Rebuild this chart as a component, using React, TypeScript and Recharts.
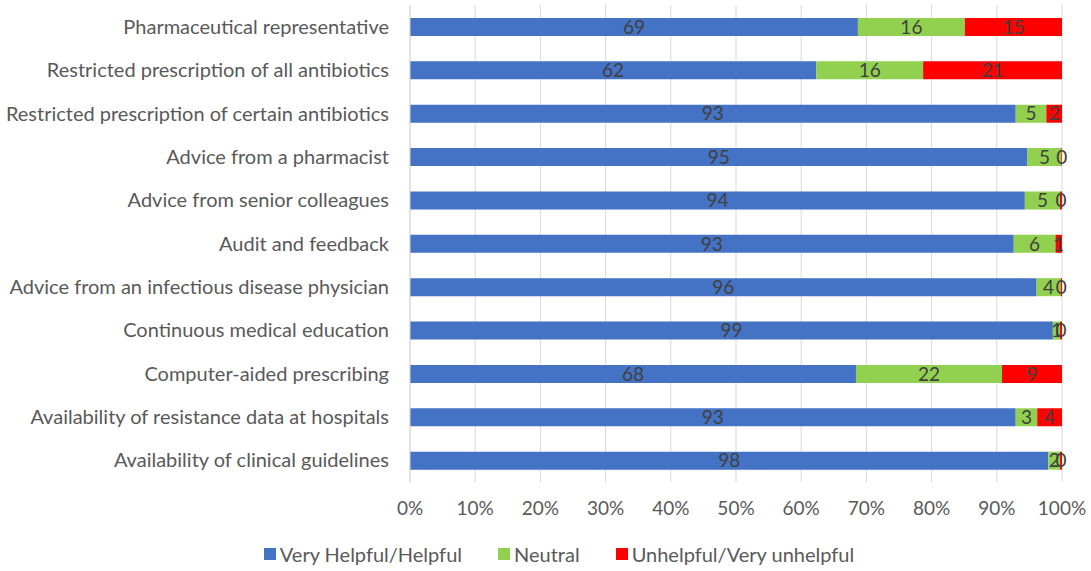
import React from "react"
import {
    Bar,
    BarChart,
    CartesianGrid,
    LabelList,
    Legend,
    XAxis,
    YAxis,
} from "recharts"

const categories = [
    "Pharmaceutical representative",
    "Restricted prescription of all antibiotics",
    "Restricted prescription of certain antibiotics",
    "Advice from a pharmacist",
    "Advice from senior colleagues",
    "Audit and feedback",
    "Advice from an infectious disease physician",
    "Continuous medical education",
    "Computer-aided prescribing",
    "Availability of resistance data at hospitals",
    "Availability of clinical guidelines",
]

// percentages
const helpful = [68.7, 62.3, 92.9, 94.7, 94.3, 92.6, 96.1, 98.6, 68.4, 92.9, 97.9]
const neutral = [16.4, 16.4, 4.7, 5.2, 5.4, 6.4, 3.7, 1.1, 22.4, 3.3, 1.8]
const unhelpful = [14.9, 21.3, 2.4, 0.1, 0.3, 1.0, 0.2, 0.3, 9.2, 3.8, 0.3]

const xTicks = [0, 0.1, 0.2, 0.3, 0.4, 0.5, 0.6, 0.7, 0.8, 0.9, 1]

const series = [
    { key: "helpful", name: "Very Helpful/Helpful", color: "#4472C4" },
    { key: "neutral", name: "Neutral", color: "#92D050" },
    { key: "unhelpful", name: "Unhelpful/Very unhelpful", color: "#FF0000" },
]

const data = categories.map((name, i) => ({
    name,
    helpful: helpful[i],
    neutral: neutral[i],
    unhelpful: unhelpful[i],
    helpfulLabel: Math.round(helpful[i]),
    neutralLabel: Math.round(neutral[i]),
    unhelpfulLabel: Math.round(unhelpful[i]),
}))

const font = "Lato, Carlito, Calibri, sans-serif"
const labelStyle = { fill: "#404040", fontSize: 19, fontFamily: font }

function LegendBox() {
    return (
        <div
            style={{
                height: 39,
                paddingTop: 5,
                boxSizing: "border-box",
                display: "flex",
                justifyContent: "center",
                alignItems: "center",
                gap: 36,
                paddingLeft: 56,
                fontFamily: font,
                fontSize: 20,
                color: "#595959",
            }}
        >
            {series.map((s) => (
                <div key={s.key} style={{ display: "flex", alignItems: "center" }}>
                    <span style={{ display: "inline-block", width: 12, height: 12, background: s.color, marginRight: 4 }} />
                    <span>{s.name}</span>
                </div>
            ))}
        </div>
    )
}

export default function App() {
    return (
        <div style={{ position: "absolute", left: 0, top: 0, width: 1091, height: 571, background: "#fff" }}>
            <BarChart
                width={1091}
                height={571}
                data={data}
                layout="vertical"
                stackOffset="expand"
                barSize={18}
                margin={{ top: 5, right: 29, left: 0, bottom: 0 }}
            >
                <CartesianGrid horizontal={false} stroke="#d9d9d9" />
                <XAxis
                    type="number"
                    domain={[0, 1]}
                    ticks={xTicks}
                    tickFormatter={(v) => `${Math.round(v * 100)}%`}
                    axisLine={false}
                    tickLine={false}
                    tickMargin={14}
                    height={50}
                    tick={{ fill: "#595959", fontSize: 19, fontFamily: font }}
                />
                <YAxis
                    type="category"
                    dataKey="name"
                    width={410}
                    axisLine={{ stroke: "#d9d9d9" }}
                    tickLine={false}
                    tickMargin={15}
                    interval={0}
                    tick={{ fill: "#595959", fontSize: 20, fontFamily: font }}
                />
                <Legend verticalAlign="bottom" content={() => <LegendBox />} />
                {series.map((s) => (
                    <Bar key={s.key} dataKey={s.key} name={s.name} stackId="a" fill={s.color} isAnimationActive={false}>
                        <LabelList dataKey={`${s.key}Label`} position="center" style={labelStyle} />
                    </Bar>
                ))}
            </BarChart>
        </div>
    )
}
